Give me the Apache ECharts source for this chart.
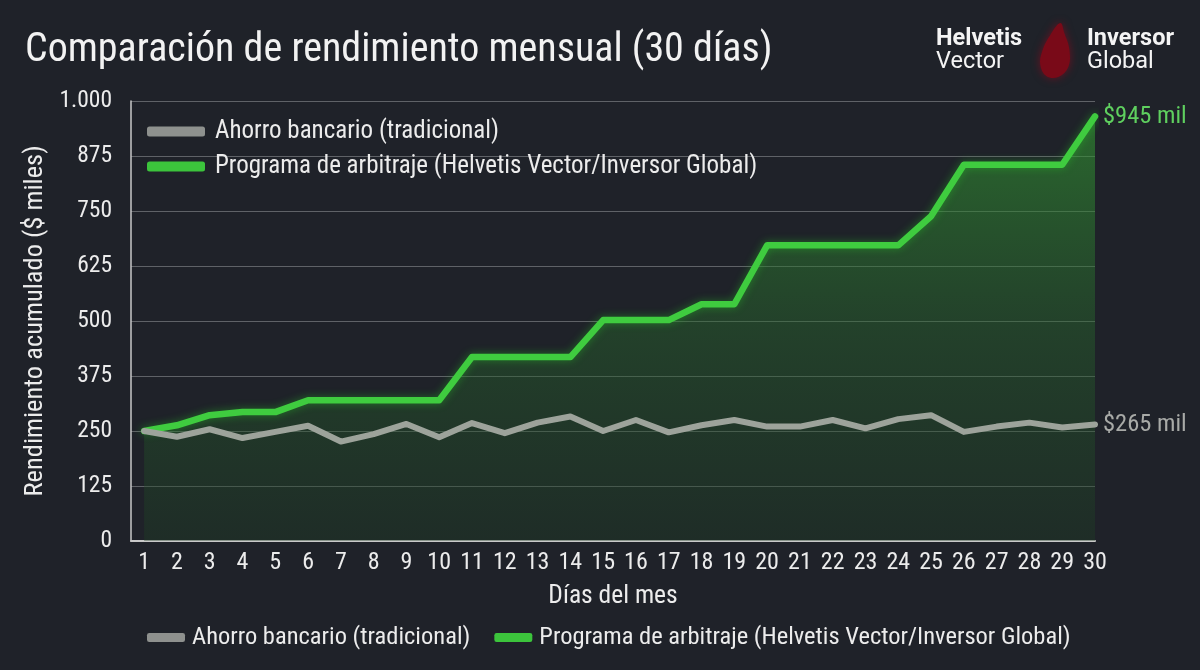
<!DOCTYPE html>
<html>
<head>
<meta charset="utf-8">
<script src="https://cdn.jsdelivr.net/npm/echarts@6/dist/echarts.min.js"></script>
<style>
html,body{margin:0;padding:0;background:#1f2229;}
#chart{width:1200px;height:670px;}
</style>
</head>
<body>
<div id="chart"></div>
<script>
const days = [1,2,3,4,5,6,7,8,9,10,11,12,13,14,15,16,17,18,19,20,21,22,23,24,25,26,27,28,29,30];
const ahorroBancario = [250,237,254,234,248,262,226,243,266,236,268,245,269,283,250,275,247,263,275,260,260,275,256,277,286,248,260,269,258,265];
const programaArbitraje = [250,263,286,293,293,320,320,320,320,320,418,418,418,418,502,502,502,538,538,672,672,672,672,672,738,855,855,855,855,965];
const seriesNames = ['Ahorro bancario (tradicional)','Programa de arbitraje (Helvetis Vector/Inversor Global)'];
const endLabels = ['$265 mil','$945 mil'];
const yTickLabels = ['0','125','250','375','500','625','750','875','1.000'];

const FONT = '"Roboto Condensed","Liberation Sans Narrow","DejaVu Sans Condensed",Roboto,sans-serif';
const LOGO_FONT = 'Roboto,"Noto Sans",sans-serif';
const toPairs = arr => days.map((d,i)=>[d,arr[i]]);

const chart = echarts.init(document.getElementById('chart'));
chart.setOption({
  backgroundColor:'#1f2229',
  textStyle:{fontFamily:FONT},
  animation:false,
  title:{
    text:'Comparación de rendimiento mensual (30 días)',
    left:20, top:26,
    textStyle:{color:'#f2f2f2',fontSize:40,fontWeight:'normal',fontFamily:FONT}
  },
  grid:{left:131,right:105,top:101,bottom:129},
  legend:[
    {
      orient:'vertical', left:142, top:114, itemGap:10,
      itemWidth:58, itemHeight:10, icon:'roundRect',
      data:seriesNames,
      textStyle:{color:'#ececec',fontSize:25,fontFamily:FONT,padding:[0,0,0,5]}
    },
    {
      orient:'horizontal', left:142, top:620, itemGap:24,
      itemWidth:38, itemHeight:9, icon:'roundRect',
      data:seriesNames,
      textStyle:{color:'#ececec',fontSize:24.5,fontFamily:FONT,padding:[0,0,0,2]}
    }
  ],
  xAxis:{
    type:'value', min:0.6, max:30,
    name:'Días del mes', nameLocation:'middle', nameGap:43,
    nameTextStyle:{color:'#ececec',fontSize:25.5,fontFamily:FONT},
    axisLine:{show:true,lineStyle:{color:'#c9c9c9',width:2}},
    axisTick:{show:false},
    splitLine:{show:false},
    axisLabel:{customValues:days,color:'#ececec',fontSize:24,fontFamily:FONT,margin:10}
  },
  yAxis:{
    type:'value', min:0, max:1000, interval:125,
    name:'Rendimiento acumulado ($ miles)', nameLocation:'middle', nameGap:80,
    nameTextStyle:{color:'#ececec',fontSize:26.5,fontFamily:FONT},
    axisLine:{show:true,lineStyle:{color:'#c9c9c9',width:1.5}},
    axisTick:{show:false},
    splitLine:{show:true,lineStyle:{color:'#5f6267',width:1.2}},
    axisLabel:{color:'#ececec',fontSize:23.5,fontFamily:FONT,margin:19,
      formatter:v=>yTickLabels[Math.round(v/125)]}
  },
  series:[
    {
      name:seriesNames[0], type:'line', data:toPairs(ahorroBancario),
      showSymbol:false, symbol:'none',
      itemStyle:{color:'#8e918e'},
      lineStyle:{color:'#9da39b',width:6,cap:'round',join:'round'},
      z:3,
      endLabel:{show:true,formatter:()=>endLabels[0],color:'#a8aaa7',fontSize:24.5,fontFamily:FONT,distance:8}
    },
    {
      name:seriesNames[1], type:'line', data:toPairs(programaArbitraje),
      showSymbol:false, symbol:'none',
      itemStyle:{color:'#3cc43c'},
      lineStyle:{color:'#3fcc3f',width:6.5,cap:'round',join:'round',shadowColor:'rgba(40,200,40,0.45)',shadowBlur:8},
      areaStyle:{
        origin:'start',
        color:new echarts.graphic.LinearGradient(0,0,0,1,[
          {offset:0,color:'rgba(50,150,50,0.88)'},
          {offset:0.5,color:'rgba(40,105,44,0.62)'},
          {offset:1,color:'rgba(30,62,36,0.55)'}
        ])
      },
      z:2,
      endLabel:{show:true,formatter:()=>endLabels[1],color:'#5fd05f',fontSize:24.5,fontFamily:FONT,distance:8}
    }
  ],
  graphic:[
    {type:'text',left:936,top:27,style:{text:'Helvetis',fill:'#f4f4f4',font:'bold 23.5px '+LOGO_FONT}},
    {type:'text',left:936,top:50,style:{text:'Vector',fill:'#f4f4f4',font:'23.5px '+LOGO_FONT}},
    {type:'polygon',left:1040,top:23,
      shape:{points:[[22,0],[12,12],[4,28],[2,42],[8,53],[20,54],[30,44],[31,26],[26,10]],smooth:0.4},
      style:{fill:'#790a18',shadowColor:'rgba(140,10,30,0.7)',shadowBlur:8}},
    {type:'text',left:1087,top:27,style:{text:'Inversor',fill:'#f4f4f4',font:'bold 23.5px '+LOGO_FONT}},
    {type:'text',left:1087,top:50,style:{text:'Global',fill:'#f4f4f4',font:'23.5px '+LOGO_FONT}}
  ]
});
</script>
</body>
</html>
